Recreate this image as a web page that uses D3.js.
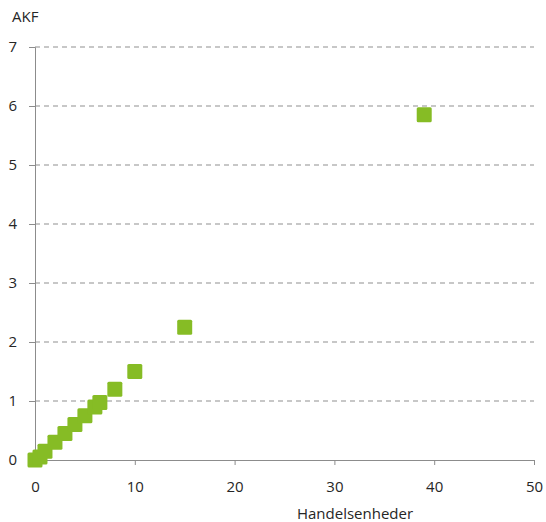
<!DOCTYPE html>
<html><head><meta charset="utf-8">
<script src="https://cdn.jsdelivr.net/npm/d3@7"></script>
<style>body{margin:0;background:#fff;} text{font-family:"Open Sans","Noto Sans",sans-serif;}</style>
</head><body>
<svg id="c" width="546" height="522"></svg>
<script>
const xValues = [0, 0.5, 1, 2, 3, 4, 5, 6, 6.5, 8, 10, 15, 39];
const yValues = [0, 0.05, 0.15, 0.3, 0.45, 0.6, 0.75, 0.9, 0.975, 1.2, 1.5, 2.25, 5.85];
const xTicks = [0, 10, 20, 30, 40, 50];
const yTicks = [0, 1, 2, 3, 4, 5, 6, 7];
const xTitle = "Handelsenheder";
const yTitle = "AKF";

const svg = d3.select("#c");
const x = d3.scaleLinear().domain([0, 50]).range([35, 534]);
const y = d3.scaleLinear().domain([0, 7]).range([460, 47]);

// gridlines
svg.append("g").selectAll("line").data(yTicks.filter(d => d > 0)).join("line")
  .attr("x1", x(0)).attr("x2", x(50))
  .attr("y1", d => y(d)).attr("y2", d => y(d))
  .attr("stroke", "#8f8f8f").attr("stroke-width", 1).attr("stroke-dasharray", "5,4");

// y axis
const ya = svg.append("g").attr("transform", `translate(${x(0)},0)`)
  .call(d3.axisLeft(y).tickValues(yTicks).tickSize(6).tickPadding(12).tickFormat(d3.format("d")));
ya.select(".domain").attr("stroke", "#8c8c8c");
ya.selectAll(".tick line").attr("stroke", "#8c8c8c");
ya.selectAll("text").attr("font-size", 15).attr("fill", "#262626").attr("font-family", "'Open Sans','Noto Sans',sans-serif");

// x axis
const xa = svg.append("g").attr("transform", `translate(0,${y(0)})`)
  .call(d3.axisBottom(x).tickValues(xTicks).tickSize(5).tickSizeOuter(0).tickPadding(16).tickFormat(d3.format("d")));
xa.select(".domain").attr("stroke", "#8c8c8c");
xa.selectAll(".tick line").attr("stroke", "#8c8c8c");
xa.selectAll("text").attr("font-size", 15).attr("fill", "#262626").attr("font-family", "'Open Sans','Noto Sans',sans-serif");

// titles
svg.append("text").attr("x", 12).attr("y", 22).attr("font-size", 15).attr("fill", "#262626").text(yTitle);
svg.append("text").attr("x", 355).attr("y", 519).attr("text-anchor", "middle").attr("font-size", 15).attr("fill", "#262626").text(xTitle);

// points
const s = 15;
svg.append("g").selectAll("rect").data(xValues.map((v, i) => [v, yValues[i]])).join("rect")
  .attr("x", d => x(d[0]) - s / 2).attr("y", d => y(d[1]) - s / 2)
  .attr("width", s).attr("height", s).attr("rx", 1.5)
  .attr("fill", "#86bc25");
</script>
</body></html>
